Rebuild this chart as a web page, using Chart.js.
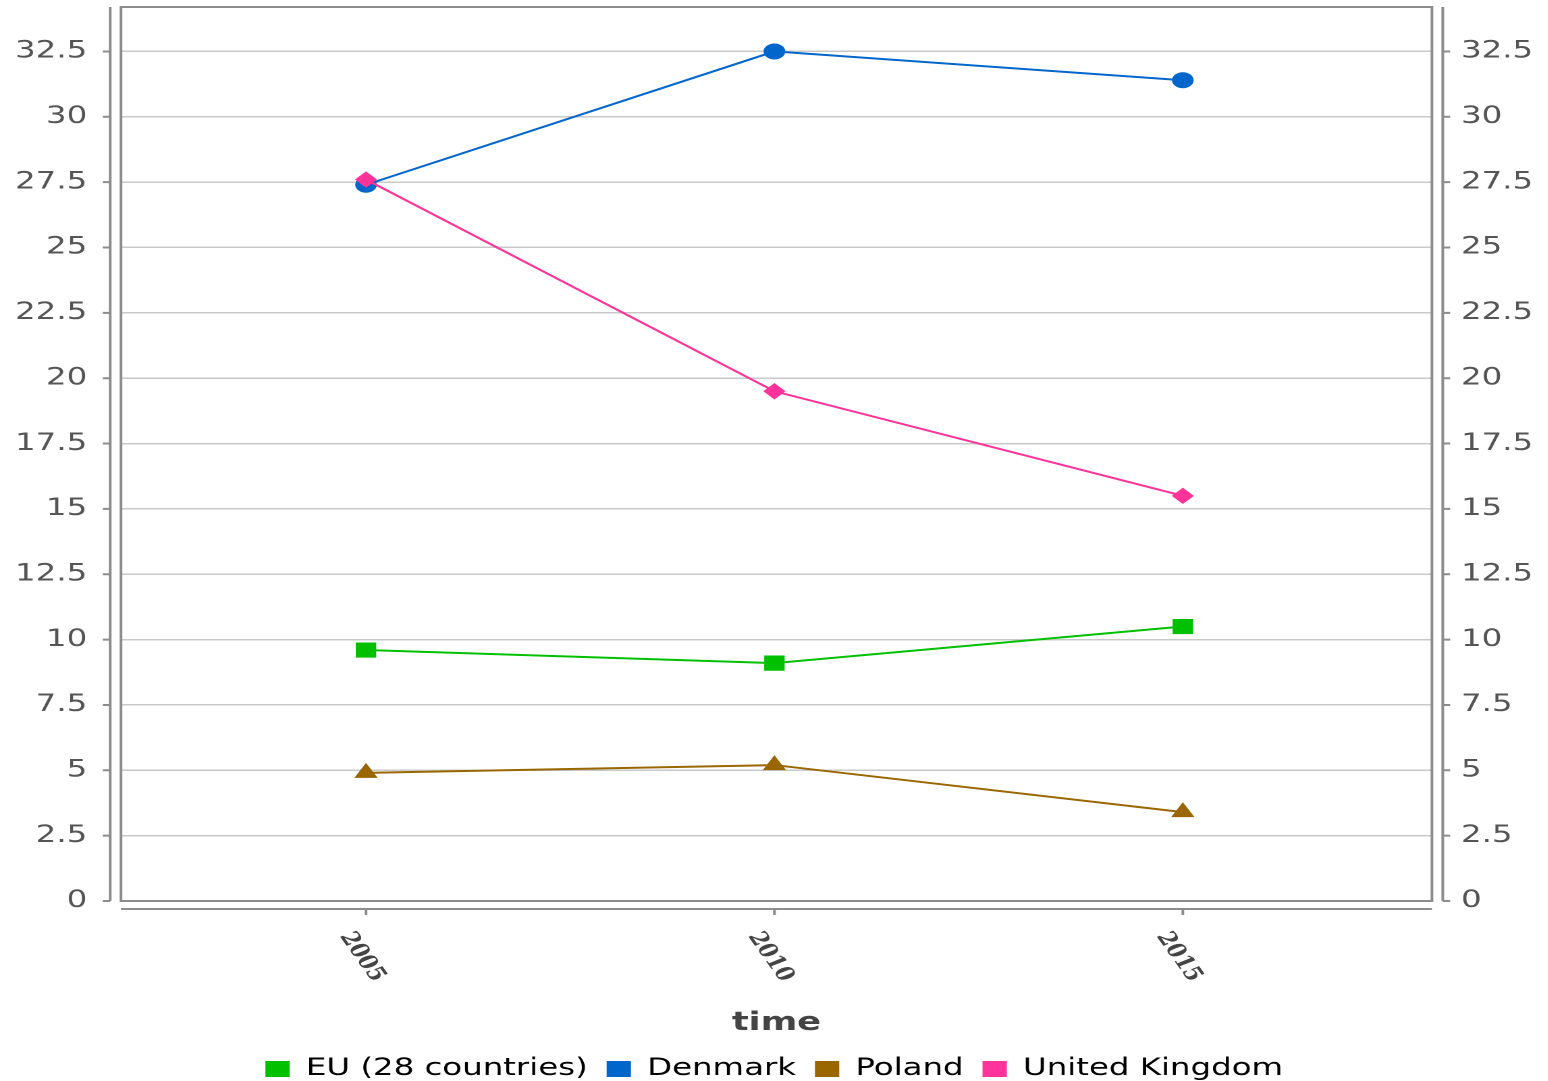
<!DOCTYPE html>
<html>
<head>
<meta charset="utf-8">
<script src="https://cdn.jsdelivr.net/npm/chart.js@4"></script>
<style>
  html, body { margin: 0; padding: 0; overflow: hidden; background: #fff; width: 1548px; height: 1081px; }
  #wrap { position: absolute; left: 0; top: 0; transform: scaleX(1.35); transform-origin: 0 0; }
</style>
</head>
<body>
<div id="wrap"><canvas id="c" width="1147" height="1091"></canvas></div>
<script>
// ---- data ----
const years = [2005, 2010, 2015];
const xTickLabels = ['2005', '2010', '2015'];
const seriesNames = ['EU (28 countries)', 'Denmark', 'Poland', 'United Kingdom'];
const euValues = [9.6, 9.1, 10.5];
const denmarkValues = [27.4, 32.5, 31.4];
const polandValues = [4.9, 5.2, 3.4];
const ukValues = [27.6, 19.5, 15.5];
const xTitle = 'time';

const toXY = vals => vals.map((v, i) => ({ x: years[i], y: v }));

const frame = {
  id: 'frame',
  beforeDatasetsDraw(chart) {
    const { ctx, chartArea: a, scales } = chart;
    ctx.save();
    ctx.strokeStyle = '#8c8c8c';
    ctx.lineWidth = 2;
    ctx.strokeRect(a.left, a.top, a.right - a.left, a.bottom - a.top);
    ctx.beginPath();
    ctx.moveTo(a.left - 8, a.top); ctx.lineTo(a.left - 8, a.bottom);
    scales.y.ticks.forEach(t => {
      const py = scales.y.getPixelForValue(t.value);
      ctx.moveTo(a.left - 8, py); ctx.lineTo(a.left - 13.5, py);
    });
    ctx.moveTo(a.right + 8, a.top); ctx.lineTo(a.right + 8, a.bottom);
    scales.y2.ticks.forEach(t => {
      const py = scales.y2.getPixelForValue(t.value);
      ctx.moveTo(a.right + 8, py); ctx.lineTo(a.right + 13.5, py);
    });
    ctx.moveTo(a.left, a.bottom + 8); ctx.lineTo(a.right, a.bottom + 8);
    scales.x.ticks.forEach(t => {
      const px = scales.x.getPixelForValue(t.value);
      ctx.moveTo(px, a.bottom + 8); ctx.lineTo(px, a.bottom + 14);
    });
    ctx.stroke();
    ctx.restore();
  },
  afterDraw(chart) {
    const { ctx, chartArea: a, scales } = chart;
    ctx.save();
    ctx.font = 'bold 19px "DejaVu Serif"';
    ctx.fillStyle = '#444';
    ctx.textAlign = 'left';
    ctx.textBaseline = 'top';
    scales.x.ticks.forEach((t, i) => {
      const px = scales.x.getPixelForValue(t.value);
      ctx.save();
      ctx.translate(px - 7, a.bottom + 28);
      ctx.rotate(62 * Math.PI / 180);
      ctx.fillText(xTickLabels[i], 0, 0);
      ctx.restore();
    });
    ctx.restore();
  }
};

const mk = (label, vals, color, style, radius, order) => ({
  label, data: toXY(vals), borderColor: color, backgroundColor: color,
  borderWidth: 2, pointStyle: style, pointRadius: radius, pointHoverRadius: radius,
  pointBorderWidth: 1, pointBackgroundColor: color, pointBorderColor: color,
  fill: false, tension: 0, order
});

const noPad = s => { s.paddingTop = 0; s.paddingBottom = 0; };

new Chart(document.getElementById('c'), {
  type: 'line',
  data: {
    datasets: [
      mk(seriesNames[0], euValues, '#00c000', 'rect', 10, 1),
      mk(seriesNames[1], denmarkValues, '#0066cc', 'circle', 7.5, 2),
      mk(seriesNames[2], polandValues, '#996600', 'triangle', 9, 3),
      mk(seriesNames[3], ukValues, '#ff3399', 'rectRot', 7.5, 0)
    ]
  },
  plugins: [frame],
  options: {
    responsive: false,
    animation: false,
    devicePixelRatio: 2,
    layout: { autoPadding: false, padding: { top: 7, left: 0, right: 0, bottom: 0 } },
    plugins: {
      legend: {
        position: 'bottom',
        labels: {
          boxWidth: 18, boxHeight: 16, padding: 14,
          color: '#111',
          font: { family: '"DejaVu Sans"', size: 24 },
          generateLabels(chart) {
            return chart.data.datasets.map((d, i) => ({
              text: d.label, fillStyle: d.borderColor, strokeStyle: d.borderColor,
              lineWidth: 0, hidden: false, datasetIndex: i
            }));
          }
        }
      },
      tooltip: { enabled: false }
    },
    scales: {
      x: {
        type: 'linear',
        min: 2002, max: 2018.05,
        afterBuildTicks(s) { s.ticks = years.map(v => ({ value: v })); },
        afterFit(s) { s.height = 142; s.paddingLeft = 0; s.paddingRight = 0; },
        grid: { display: false },
        border: { display: false },
        ticks: { display: false },
        title: {
          display: true, text: xTitle, color: '#444',
          font: { family: '"DejaVu Sans"', size: 26, weight: 'bold' },
          padding: { top: 4, bottom: 4 }
        }
      },
      y: {
        position: 'left',
        min: 0, max: 34.2,
        afterFit(s) { s.width = 89.6; noPad(s); },
        ticks: {
          stepSize: 2.5, includeBounds: false, padding: 25,
          color: '#555', font: { family: '"DejaVu Sans"', size: 24 },
          callback: v => String(v)
        },
        grid: { color: '#c8c8c8', lineWidth: 1.5, drawTicks: false },
        border: { display: false }
      },
      y2: {
        position: 'right',
        min: 0, max: 34.2,
        afterFit(s) { s.width = 86.3; noPad(s); },
        ticks: {
          stepSize: 2.5, includeBounds: false, padding: 21.5,
          color: '#555', font: { family: '"DejaVu Sans"', size: 24 },
          callback: v => String(v)
        },
        grid: { drawOnChartArea: false, drawTicks: false },
        border: { display: false }
      }
    }
  }
});
</script>
</body>
</html>
